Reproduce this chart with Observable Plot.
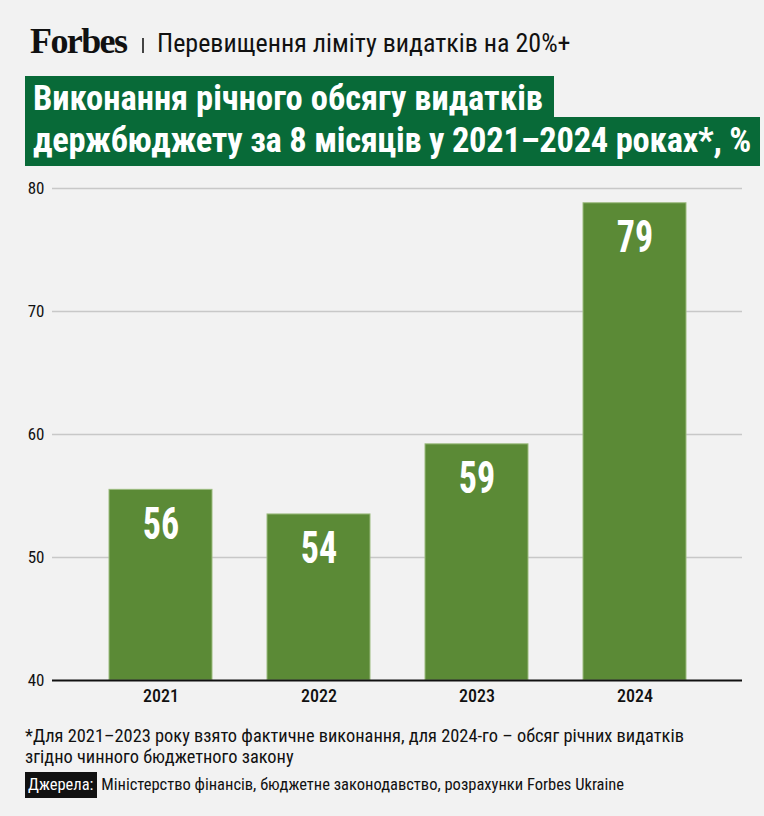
<!DOCTYPE html>
<html>
<head>
<meta charset="utf-8">
<script src="https://cdn.jsdelivr.net/npm/d3@7"></script>
<script src="https://cdn.jsdelivr.net/npm/@observablehq/plot@0.6"></script>
<style>
  html, body { margin: 0; padding: 0; background: #f2f2f2; }
  body { width: 764px; height: 816px; position: relative; overflow: hidden;
         font-family: "Roboto Condensed", "Liberation Sans Narrow", "DejaVu Sans Condensed", "Noto Sans", Roboto, sans-serif;
         font-stretch: condensed; color: #111; }
  .abs { position: absolute; white-space: nowrap; }
  #forbes { left: 30px; top: 20px; font-family: "Liberation Serif", "DejaVu Serif", serif; font-weight: bold;
            font-size: 36px; letter-spacing: -1.6px; color: #111; font-stretch: normal; line-height: 42px; }
  #sep { left: 142px; top: 38px; width: 1.5px; height: 15px; background: #444; }
  #sub { left: 157px; top: 26px; font-size: 26px; line-height: 34px; color: #111; }
  .tline { left: 25px; background: #086a38; color: #fff; font-weight: bold; font-size: 34.5px;
           padding: 0 11px 0 8px; box-sizing: border-box; }
  #t1 { top: 76px; height: 42px; line-height: 44px; }
  #t2 { top: 117px; height: 49px; line-height: 46px; letter-spacing: -0.25px; padding-right: 9px; }
  #chart { position: absolute; left: 0; top: 170px; }
  #note { left: 25px; top: 725px; font-size: 18.4px; line-height: 21px; }
  #src { left: 25px; top: 772px; font-size: 16.5px; line-height: 26px; }
  #src .lab { background: #111; color: #fff; padding: 0 4px 0 3px; display: inline-block; height: 26px; }
</style>
</head>
<body>
<div class="abs" id="forbes">Forbes</div>
<div class="abs" id="sep"></div>
<div class="abs" id="sub">Перевищення ліміту видатків на 20%+</div>
<div class="abs tline" id="t1">Виконання річного обсягу видатків</div>
<div class="abs tline" id="t2">держбюджету за 8 місяців у 2021–2024 роках*, %</div>
<div id="chart"></div>
<div class="abs" id="note">*Для 2021–2023 року взято фактичне виконання, для 2024-го – обсяг річних видатків<br>згідно чинного бюджетного закону</div>
<div class="abs" id="src"><span class="lab">Джерела:</span> Міністерство фінансів, бюджетне законодавство, розрахунки Forbes Ukraine</div>
<script>
const years = ["2021", "2022", "2023", "2024"];
const values = [55.5, 53.5, 59.2, 78.8];
const labels = ["56", "54", "59", "79"];
const yTicks = [40, 50, 60, 70, 80];

const data = years.map((y, i) => ({year: y, value: values[i], label: labels[i]}));
const font = getComputedStyle(document.body).fontFamily;

const chart = Plot.plot({
  width: 764,
  height: 545,
  marginLeft: 52,
  marginRight: 22,
  marginTop: 18,
  marginBottom: 35,
  style: {background: "transparent", fontFamily: font, fontStretch: "condensed", overflow: "visible"},
  x: {domain: years, padding: 0.35, label: null},
  y: {domain: [40, 80], label: null},
  marks: [
    Plot.gridY(yTicks.slice(1), {stroke: "#c8c8c8", strokeOpacity: 1, strokeWidth: 1.5}),
    Plot.barY(data, {x: "year", y1: () => 40, y2: "value", fill: "#5b8a36", stroke: "#9cbb7e", strokeWidth: 1}),
    Plot.ruleY([40], {stroke: "#111", strokeWidth: 2}),
    Plot.axisY({ticks: yTicks, tickSize: 0, tickPadding: 8, fontSize: 17, fill: "#111", label: null}),
    Plot.axisX({tickSize: 0, tickPadding: 9, fontSize: 18, fill: "#111", fontWeight: 500, label: null}),
    Plot.text(data, {x: "year", y: "value", text: "label", lineAnchor: "top", dy: 17,
      fill: "#fff", fontSize: 45, fontWeight: "bold"})
  ]
});
document.getElementById("chart").appendChild(chart);

// narrow the bar-label glyphs around their centres (condensed display face)
d3.select(chart).selectAll('g[aria-label="text"] text').each(function() {
  const bb = this.getBBox();
  const cx = bb.x + bb.width / 2;
  const t = this.getAttribute("transform") || "";
  this.setAttribute("transform", `${t} translate(${cx},0) scale(0.8,1) translate(${-cx},0)`);
});
</script>
</body>
</html>
